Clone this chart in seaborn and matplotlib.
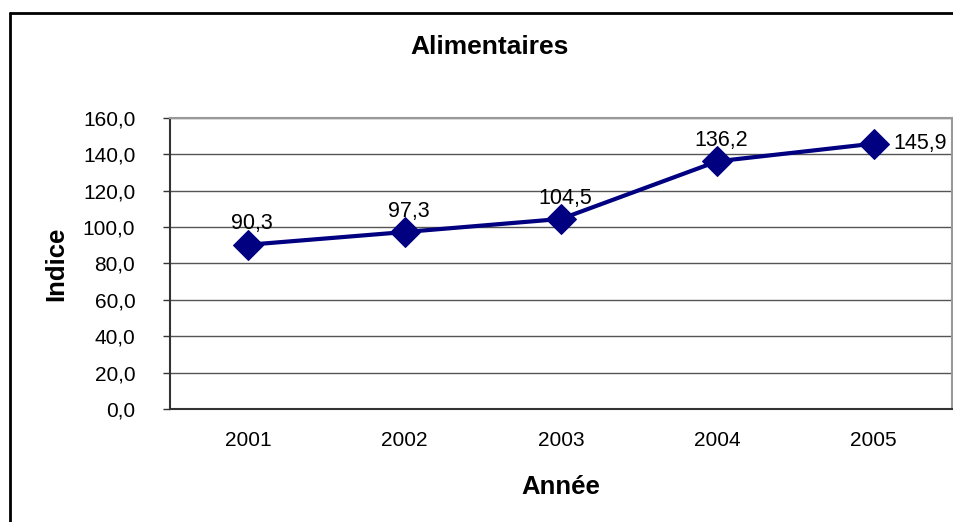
import numpy as np
import pandas as pd
import seaborn as sns
import matplotlib.pyplot as plt
import matplotlib.ticker as tkr
from matplotlib.lines import Line2D

annees = ['2001', '2002', '2003', '2004', '2005']
indice = [90.3, 97.3, 104.5, 136.2, 145.9]
y_ticks = [0, 20, 40, 60, 80, 100, 120, 140, 160]

sns.set_style('white')
plt.rcParams['font.family'] = ['Liberation Sans', 'DejaVu Sans']
plt.rcParams.update({'text.color': 'black', 'axes.labelcolor': 'black',
                     'xtick.labelcolor': 'black', 'ytick.labelcolor': 'black'})

df = pd.DataFrame({'Année': annees, 'Indice': indice})

fig = plt.figure(figsize=(9.54, 5.22), dpi=100)
ax = fig.add_axes([170 / 954, 113 / 522, 782 / 954, 291 / 522])

navy = '#000080'
sns.lineplot(data=df, x='Année', y='Indice', ax=ax, color=navy,
             linewidth=3, marker='D', markersize=15,
             markeredgecolor=navy, markerfacecolor=navy, zorder=3)

ax.set_ylim(0, 160)
ax.set_xlim(-0.5, 4.5)
ax.set_yticks(y_ticks)
ax.yaxis.set_major_formatter(tkr.FuncFormatter(lambda v, p: f'{v:.1f}'.replace('.', ',')))
ax.yaxis.grid(True, color='#555555', linewidth=1)
ax.set_axisbelow(True)

ax.set_xticks(range(len(annees)))
ax.set_xticklabels(annees)
ax.set_xticks(np.arange(-0.5, len(annees), 1.0), minor=True)
ax.tick_params(axis='x', which='major', length=0, pad=16, labelsize=15, labelcolor='black')
ax.tick_params(axis='x', which='minor', length=5, width=1, color='#333333', direction='out')
ax.tick_params(axis='y', which='major', length=5, width=1, color='#333333',
               direction='out', left=True, labelsize=15, pad=20, labelcolor='black')

for side in ['left', 'bottom']:
    ax.spines[side].set_color('#333333')
    ax.spines[side].set_linewidth(1.5)
for side in ['top', 'right']:
    ax.spines[side].set_color('#999999')
    ax.spines[side].set_linewidth(1.5)

for i, v in enumerate(indice):
    lab = f'{v:.1f}'.replace('.', ',')
    if i == len(indice) - 1:
        ax.annotate(lab, (i, v), xytext=(14, 0), textcoords='offset points',
                    ha='left', va='center', fontsize=15.5, color='black')
    else:
        ax.annotate(lab, (i, v), xytext=(3, 15), textcoords='offset points',
                    ha='center', va='center', fontsize=15.5, color='black')

ax.set_xlabel('Année', fontsize=18.5, fontweight='bold', labelpad=18, color='black')
ax.set_ylabel('Indice', fontsize=18.5, fontweight='bold', color='black')
ax.yaxis.set_label_coords((68 - 170) / 782, 0.5)
fig.text(490 / 954, 1 - 47 / 522, 'Alimentaires', ha='center', va='center',
         fontsize=19, fontweight='bold', color='black')

# outer chart frame (only left and top edges visible in the crop)
fig.add_artist(Line2D([10 / 954, 10 / 954], [0, 1 - 13 / 522], color='black', linewidth=2))
fig.add_artist(Line2D([10 / 954, 1], [1 - 13 / 522, 1 - 13 / 522], color='black', linewidth=2))

fig.savefig('out.png', dpi=100)
